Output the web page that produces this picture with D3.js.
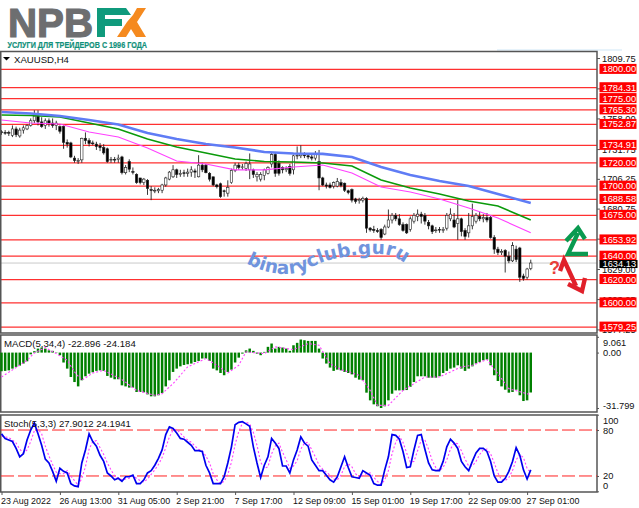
<!DOCTYPE html>
<html><head><meta charset="utf-8">
<script src="https://cdn.jsdelivr.net/npm/d3@7/dist/d3.min.js"></script>
<style>html,body{margin:0;padding:0;background:#fff}svg{display:block}text{font-family:"Liberation Sans",sans-serif}</style>
</head><body><div id="c"></div>
<script>
const opens=[1746.5,1746,1746,1743.5,1749,1743,1748,1749,1752,1756,1760,1755,1752,1756,1754,1752,1751,1751,1737.5,1737,1724,1722,1722.5,1741,1739,1737,1736,1734.5,1733,1732,1723,1723,1723,1725,1711.5,1721,1712.5,1710,1707,1703,1705,1697,1696.5,1696,1696.5,1701,1706,1708,1714,1710,1711.5,1711,1712,1713,1708,1718,1718,1711,1708,1701,1702,1696,1694,1703,1713.5,1718,1716,1715,1714,1714,1708,1706,1709,1711,1719,1727,1719.5,1716,1714,1717,1714,1726,1726,1727,1726,1725,1724,1721,1707,1701,1701,1700,1700,1703,1702.5,1696,1697,1689,1687.5,1688,1689.5,1664,1663,1662,1663,1659,1665,1671,1675,1672,1667,1667,1663,1670,1674,1676,1675,1669,1666,1662,1663,1662,1664,1672,1671,1668,1672,1662,1660,1666,1670,1674,1672,1673,1673,1656,1646,1643,1645,1640,1636,1646,1647,1623,1622,1629.5];
const highs=[1748,1748,1747.5,1752,1751,1750,1752,1753,1758,1765,1765,1759,1758,1758,1758,1756,1752,1752,1740,1738,1726,1724,1741.5,1746,1741,1739,1738,1737,1736,1733,1725,1725,1727,1726,1718,1723,1716,1711,1707,1707,1706,1700,1699,1698.5,1702,1708,1713,1718,1715,1714,1714,1715,1717,1715,1726.5,1720,1719,1712,1708,1702,1703,1697,1705,1715,1720,1720,1719,1721,1728,1715,1712,1712,1715,1717,1728.5,1728.5,1722,1717,1717,1719,1727,1734,1735,1729,1728,1728,1730,1731,1708,1703,1703,1704,1707,1706,1703,1697,1698,1690,1690,1691,1690.5,1665,1666,1664,1664,1667,1680,1677,1677,1676,1669,1668,1674,1677,1680,1678,1677,1671,1667,1665,1665,1665,1677,1681,1677,1688,1673,1664,1677,1685,1677,1678,1676,1677,1675,1658,1648,1646,1646,1644,1652,1649,1648,1625,1630,1637];
const lows=[1744,1744,1743,1742,1742,1741.5,1745,1748,1751,1754,1752,1750,1749,1751,1750,1748,1745,1732,1733,1724,1720,1719,1720,1736,1734,1735,1731,1730,1727,1720,1720,1720,1720,1710,1710,1712,1710,1702,1701.5,1701,1692.5,1688,1694,1694,1694,1699.5,1705,1707,1707,1708,1708,1708,1708,1707,1707.5,1712,1711,1704,1700,1698,1690,1691,1691,1702,1712,1714,1714,1713,1706,1707,1704,1704,1705,1710,1716,1708,1709,1711,1712,1709,1710,1723,1724,1724,1723,1722,1722,1696.5,1700,1698,1698,1698,1699,1699,1695,1693,1686,1685,1685,1686,1660,1661,1660,1660,1654,1658,1664,1668,1670,1666,1661,1659,1661,1668,1670,1668,1667,1663,1659,1660,1660,1660,1662,1670,1664,1654,1657,1654,1656,1663,1668,1670,1669,1669,1655,1642,1641,1641,1626,1634,1635,1635,1618,1619,1620,1628];
const closes=[1746,1745.5,1745.5,1749,1744,1748,1750,1752,1756,1760,1755,1751,1756,1754,1752,1754,1747,1737.5,1736,1725,1722,1722,1741,1739,1736.5,1736.5,1734,1733,1728.5,1721,1723,1722.5,1724,1711.5,1716,1714.5,1712,1703,1703,1706,1698,1696.5,1696.5,1697,1701,1707,1712,1714,1710,1711,1711,1712,1714,1712,1718,1714,1711.5,1706,1701,1699.5,1691,1695.5,1699,1713.5,1718,1716,1716.5,1719.5,1719,1710,1710,1710,1714,1716,1727,1711,1711,1714,1715,1711,1726,1726.5,1728,1726,1725,1724,1727,1707,1701,1700,1699,1703,1704,1700.5,1696.5,1694.5,1688,1687,1688.5,1689.5,1664,1662.5,1662,1661,1656,1665,1671,1675,1672,1667,1662,1660,1672,1675,1676,1674,1670,1666,1661,1662.5,1662.5,1663,1675,1676,1665,1672,1661,1657,1666,1674,1675,1672,1673,1671,1656,1646,1643,1644,1640,1636,1649,1637,1622,1621,1629,1634.13];

const maBars=[0,8,16,24,32,40,48,56,64,72,80,88,96,104,112,120,128,136,145];
const maBlue=[1763.5,1762.2,1760.1,1756.7,1752.8,1745.5,1740.4,1736.1,1733.1,1729.3,1728,1727.6,1725,1716.4,1709.6,1704.4,1700.1,1693.3,1685.6];
const maGreen=[1761,1760.5,1759.2,1754.1,1749,1740.4,1733.5,1728.4,1723.3,1721.1,1720.7,1719.8,1717.3,1705.3,1698.4,1693.3,1687.3,1683,1671];
const maMagenta=[1756.7,1754.1,1753.2,1746.4,1742.1,1732.7,1721.6,1719,1713.9,1713.9,1716.4,1718.1,1711.3,1699.3,1695,1689,1681.3,1672.7,1660];

const levels=[1800,1784.31,1775,1765.30,1752.87,1734.91,1720,1700,1688.58,1675,1653.92,1640,1620,1600,1579.25];
const priceTicks=[1809.75,1783.75,1758.00,1731.75,1706.25,1680.75,1655.00,1629.00,1603.25,1577.25];
const lastPrice=1634.13;

const macd=[-10.7,-10.5,-10.2,-9.2,-8.2,-7.5,-6.3,-5,-1,.8,
2.3,2.9,2.3,1.3,1,-.2,-1.5,-5.7,-9.2,-14,
-16.9,-19.4,-15.9,-13.6,-12.1,-11.3,-10.5,-10.2,-10.5,-13.4,
-14.4,-15.3,-15.3,-18.8,-19.4,-20.1,-20.1,-22.6,-22.6,-22.8,
-24,-25.1,-25.1,-24.5,-23.2,-19.4,-15.9,-11.1,-9.2,-7.9,
-7.1,-6.7,-6.3,-5.4,-4.8,-3.4,-3.4,-4.8,-9.2,-10.2,
-11.7,-13,-11.1,-9.8,-5.7,-2.9,-.6,1.3,2.3,1,
-.6,-1.5,.4,3.3,5.2,2.3,3.3,2.9,2.3,1,
4.2,5.6,7.5,7.1,6.7,6.7,6.7,2.3,-3.4,-6.3,
-8.6,-10.5,-9.8,-10.2,-11.1,-11.7,-12.5,-14.4,-15.5,-15.9,
-23,-27.4,-29.7,-30.8,-31.8,-30.8,-27.4,-23.6,-21.7,-21.7,
-21.7,-21.5,-19.7,-16.9,-13.6,-13.6,-13.6,-14.4,-14.4,-14.4,
-13.6,-11.7,-10.5,-9.2,-8.6,-7.3,-9.2,-10.5,-9.2,-7.9,
-6.3,-5.4,-4.4,-4,-7.3,-13,-16.3,-19.4,-21.3,-23,
-22.6,-21.3,-24.5,-27.8,-27.4,-22.896];
const macdSigBars=[0,4,7,9,12,15,18,20,22,25,28,33,37,42,44,47,51,56,59,62,65,67,72,75,80,84,87,90,93,98,101,103,106,110,116,120,126,129,133,136,139,145];
const macdSig=[-14,-8.6,-4.4,-.2,2.9,-.6,-4.4,-11.1,-15.9,-11.7,-10.2,-15.5,-21.7,-24.5,-23.6,-17.8,-8.2,-3.4,-7.3,-11.7,-7.3,.4,-.6,3.3,1.7,5.2,4.2,-6.3,-9.8,-13,-21.7,-30.3,-30.3,-21.7,-14,-14,-8.2,-7.3,-4,-12.1,-20.7,-24.184];

const stochMain=[75,69,67,65,56,45,49,67,80,89,75,60,42,37,26,13,30,26,24,10,7,6,37,54,75,65,59,47,39,24,20,15,17,13,19,19,21,10,10,15,24,27,34,43,54,74,84,82,76,69,68,64,60,53,53,52,34,24,10,10,10,19,37,58,87,90,91,88,85,58,37,18,34,45,69,63,56,33,33,24,41,54,71,63,59,41,34,27,27,21,15,12,19,32,45,31,19,18,17,27,24,21,10,8,8,28,45,74,73,68,52,31,32,54,73,74,55,37,28,27,27,39,58,68,63,56,39,32,27,39,50,56,56,52,39,20,12,12,17,26,39,57,47,28,16,27.9012];
const stochSig=[72,71,70,67,63,55,50,54,65,79,81,75,59,46,35,25,23,23,27,20,14,8,17,32,55,65,66,57,48,37,28,20,17,15,16,17,20,17,14,12,16,22,28,35,44,57,71,80,81,76,71,67,64,59,55,53,46,37,23,15,10,13,22,38,61,78,89,90,88,77,60,38,30,32,49,59,63,51,41,30,33,40,55,63,64,54,45,34,29,25,21,16,15,21,32,36,32,23,18,21,23,24,18,13,9,15,27,49,64,72,64,50,38,39,53,67,67,55,40,31,27,31,41,55,63,62,53,42,33,33,39,48,54,55,49,37,24,15,14,18,27,41,48,44,30,24.1941];
const stochLevels=[80,20];
const stochTicks=[100,80,20,0];
const macdTicks=[9.061,0,-31.799];

const dateBars=[0,16,32,48,64,80,96,112,128,144];
const dateLabels=["23 Aug 2022","26 Aug 13:00","31 Aug 05:00","2 Sep 21:00","7 Sep 17:00","12 Sep 09:00","15 Sep 01:00","19 Sep 17:00","22 Sep 09:00","27 Sep 01:00"];
const wmText="binaryclub.guru";

const W=639,H=508,R=597;
const svg=d3.select("#c").append("svg").attr("width",W).attr("height",H).attr("viewBox",`0 0 ${W} ${H}`);
const x=d3.scaleLinear().domain([0,145]).range([1.5,530.75]);
const y=d3.scaleLinear().domain([1800,1579.25]).range([69.4,327.1]);
const yM=d3.scaleLinear().domain([9.061,-31.799]).range([336.8,408]);
const yS=d3.scaleLinear().domain([100,0]).range([414.7,491.3]);

// logo
const logo=svg.append("g").attr("font-weight",700);
logo.append("text").attr("x",8).attr("y",36.7).attr("font-size",40).attr("fill","#6d6e70").attr("stroke","#6d6e70").attr("stroke-width",1.2).attr("textLength",85).attr("lengthAdjust","spacingAndGlyphs").text("NPB");
logo.append("path").attr("fill","#0f9a7c").attr("d","M97,8 H126 L131,15 H105 V19 H122 V26 H105 V37 H97 Z");
logo.append("path").attr("fill","#f58a1f").attr("d","M137,8 H146 L137,22 L146,37 H136 L131,29 L126,37 H117 L127,22 L133,15 Z");
logo.append("text").attr("x",7.5).attr("y",47.5).attr("font-size",9.3).attr("fill","#10907a").attr("stroke","#10907a").attr("stroke-width",.2).attr("textLength",139.5).attr("lengthAdjust","spacingAndGlyphs").text("УСЛУГИ ДЛЯ ТРЕЙДЕРОВ С 1996 ГОДА");
svg.append("line").attr("x1",497).attr("x2",622).attr("y1",50).attr("y2",50).attr("stroke","#cfe6f6");

svg.append("clipPath").attr("id","mc").append("rect").attr("x",1).attr("y",52).attr("width",R-1).attr("height",281);

// level lines
const main=svg.append("g").attr("clip-path","url(#mc)");
main.append("line").attr("x1",0).attr("x2",R).attr("y1",y(lastPrice)).attr("y2",y(lastPrice)).attr("stroke","#c9c9c9").attr("stroke-width",1);
main.selectAll("line.l").data(levels).join("line").attr("class","l").attr("x1",0).attr("x2",R).attr("y1",d=>y(d)).attr("y2",d=>y(d)).attr("stroke","#ff3030").attr("stroke-width",1.3);

// candles
const idx=d3.range(opens.length);
main.selectAll("line.w").data(idx).join("line").attr("class","w").attr("x1",i=>x(i)).attr("x2",i=>x(i)).attr("y1",i=>y(highs[i])).attr("y2",i=>y(lows[i])).attr("stroke","#222").attr("stroke-width",.9);
main.selectAll("rect.b").data(idx).join("rect").attr("class","b")
 .attr("x",i=>x(i)-1.2).attr("width",2.4)
 .attr("y",i=>y(Math.max(opens[i],closes[i])))
 .attr("height",i=>Math.max(.8,Math.abs(y(opens[i])-y(closes[i]))))
 .attr("fill",i=>closes[i]>=opens[i]?"#fff":"#000").attr("stroke","#222").attr("stroke-width",.6);

// moving averages
const maLine=d3.line().x((d,k)=>x(maBars[k])).y(d=>y(d));
main.append("path").attr("d",maLine(maMagenta)).attr("fill","none").attr("stroke","#ff40ff").attr("stroke-width",1.1);
main.append("path").attr("d",maLine(maGreen)).attr("fill","none").attr("stroke","#0a9a0a").attr("stroke-width",1.6);
main.append("path").attr("d",maLine(maBlue)).attr("fill","none").attr("stroke","#5f7cf5").attr("stroke-width",2.6);

// watermark on its wavy baseline
svg.append("path").attr("id","wm").attr("fill","none").attr("d","M246,263 C258,270 270,273 283,274 C298,274 305,271 314,266 C325,260 338,258 350,256 C362,254 378,253 388,255 C396,257 401,260 406,265");
svg.append("text").attr("font-size",18.5).attr("font-weight",700).attr("fill","#7094dd").style("font-family","'DejaVu Sans'")
 .append("textPath").attr("href","#wm").text(wmText);

// arrows
const arrows=svg.append("g").attr("fill","none").attr("stroke-width",4.4).attr("stroke-linejoin","miter");
arrows.append("path").attr("stroke","#0a9a50").attr("d","M588,254 L568,254 L578,233 M566,241 L578,228 L585,239");
arrows.append("path").attr("stroke","#e0202a").attr("d","M560,271 L564,260 L576,286 M568,284 L582,291 L585,278");
svg.append("text").attr("x",549).attr("y",274).attr("font-size",18).attr("font-weight",700).attr("fill","#e8403a").text("?");

// frames
const frame="#555";
[[51.5,333],[335,412],[415,492]].forEach(([a,b])=>svg.append("rect").attr("x",.75).attr("y",a).attr("width",R-.75).attr("height",b-a).attr("fill","none").attr("stroke",frame).attr("stroke-width",1.5));

// price axis
const pa=svg.append("g").attr("transform",`translate(${R},0)`).call(d3.axisRight(y).tickValues(priceTicks).tickSize(3).tickPadding(2).tickFormat(d3.format(".2f")));
pa.select(".domain").remove();
pa.selectAll("text").attr("font-size",9.3).attr("font-family","Liberation Sans").attr("fill","#111");
pa.selectAll("line").attr("stroke",frame);

// level labels
const lb=svg.append("g").selectAll("g").data(levels).join("g").attr("transform",d=>`translate(599.5,${y(d)})`);
lb.append("rect").attr("x",0).attr("y",-5.5).attr("width",37).attr("height",10).attr("fill","#ff0000");
lb.append("text").attr("x",3).attr("y",3).attr("font-size",9.3).attr("fill","#fff").text(d=>d3.format(".2f")(d));
const cur=svg.append("g").attr("transform",`translate(599.5,${y(lastPrice)})`);
cur.append("rect").attr("y",-3).attr("width",38).attr("height",8).attr("fill","#000");
cur.append("text").attr("x",3).attr("y",4.4).attr("font-size",9.3).attr("fill","#fff").text(lastPrice.toFixed(2));

svg.append("path").attr("d","M10,57 L3,57 L6.5,60.5 Z").attr("fill","#000");
svg.append("text").attr("x",14).attr("y",62.5).attr("font-size",9.6).attr("fill","#111").text("XAUUSD,H4");

// MACD
svg.selectAll("rect.m").data(macd).join("rect").attr("class","m")
 .attr("x",(d,i)=>x(i)-1.25).attr("width",2.5)
 .attr("y",d=>Math.min(yM(d),yM(0))).attr("height",d=>Math.abs(yM(d)-yM(0)))
 .attr("fill","#008000");
svg.append("path").attr("d",d3.line().x((d,k)=>x(macdSigBars[k])).y(d=>yM(d))(macdSig)).attr("fill","none").attr("stroke","#ff40ff").attr("stroke-width",1.1).attr("stroke-dasharray","2,2");
svg.append("text").attr("x",4).attr("y",346.5).attr("font-size",9.6).attr("fill","#111").text("MACD(5,34,4) -22.896 -24.184");
const ma=svg.append("g").attr("transform",`translate(${R},0)`).call(d3.axisRight(yM).tickValues(macdTicks).tickSize(2).tickPadding(4).tickFormat(d=>d===0?"0.00":String(d)));
ma.select(".domain").remove();
ma.selectAll("text").attr("font-size",9.3).attr("font-family","Liberation Sans").attr("fill","#111")
 .attr("dy",d=>d===9.061?"0.9em":d===-31.799?"0.05em":"0.32em");
ma.selectAll("line").attr("stroke",frame);

// Stoch
svg.selectAll("line.s").data(stochLevels).join("line").attr("class","s").attr("x1",1).attr("x2",R).attr("y1",d=>yS(d)).attr("y2",d=>yS(d)).attr("stroke","#ff2020").attr("stroke-width",1).attr("stroke-dasharray","13,4");
const sl=d3.line().x((d,i)=>x(i)).y(d=>yS(d));
svg.append("path").attr("d",sl(stochSig)).attr("fill","none").attr("stroke","#ff40ff").attr("stroke-width",1.1).attr("stroke-dasharray","2,2");
svg.append("path").attr("d",sl(stochMain)).attr("fill","none").attr("stroke","#0000ee").attr("stroke-width",1.7);
svg.append("text").attr("x",4).attr("y",426.5).attr("font-size",9.6).attr("fill","#111").text("Stoch(5,3,3) 27.9012 24.1941");
const sa=svg.append("g").attr("transform",`translate(${R},0)`).call(d3.axisRight(yS).tickValues(stochTicks).tickSize(2).tickPadding(4));
sa.select(".domain").remove();
sa.selectAll("text").attr("font-size",9.3).attr("font-family","Liberation Sans").attr("fill","#111")
 .attr("dy",d=>d===100?"0.95em":d===0?"-0.25em":"0.32em");
sa.selectAll("line").attr("stroke",frame);

// date axis
const da=svg.append("g").attr("transform","translate(0,492)").call(d3.axisBottom(x).tickValues(dateBars).tickSize(3).tickPadding(3).tickFormat((d,i)=>dateLabels[i]));
da.select(".domain").remove();
da.selectAll("line").attr("stroke",frame);
da.selectAll("text").attr("font-size",8.9).attr("font-family","Liberation Sans").attr("fill","#111").attr("text-anchor","start").attr("x",-1);
</script></body></html>
